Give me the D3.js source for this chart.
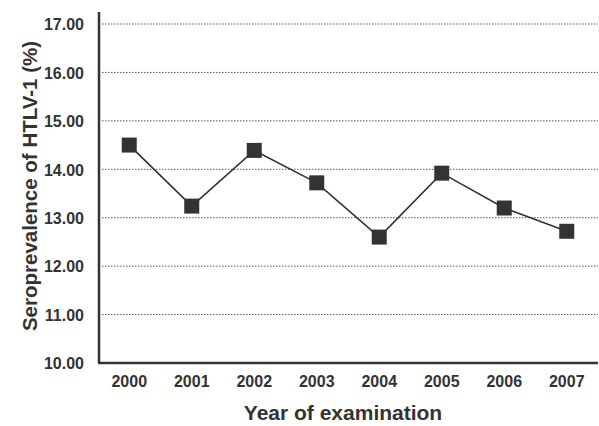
<!DOCTYPE html>
<html lang="en">
<head>
  <meta charset="UTF-8">
  <title>HTLV-1 Seroprevalence</title>
  <script src="https://d3js.org/d3.v7.min.js"></script>
  <style>
    body { margin: 0; background: #fff; }
    svg { font-family: "Liberation Sans", Arial, sans-serif; }
    .tick-label { font-weight: bold; font-size: 16px; fill: #333; }
    .axis-title { font-weight: bold; fill: #333; }
    .grid { stroke: #555; stroke-width: 1px; stroke-dasharray: 1.5 1.5; }
  </style>
</head>
<body>
  <svg width="599" height="426"></svg>

  <script>
    const years = ["2000", "2001", "2002", "2003", "2004", "2005", "2006", "2007"];
    const prevalence = [14.50, 13.24, 14.39, 13.72, 12.60, 13.92, 13.20, 12.72];
    const yTicks = [10, 11, 12, 13, 14, 15, 16, 17];

    const data = years.map((y, i) => ({ year: y, value: prevalence[i] }));

    const svg = d3.select("svg"),
      margin = { top: 24, right: 1, bottom: 64, left: 98 },
      width = +svg.attr("width") - margin.left - margin.right,
      height = +svg.attr("height") - margin.top - margin.bottom;

    const g = svg.append("g").attr("transform", `translate(${margin.left},${margin.top})`);

    const x = d3.scaleBand()
      .domain(years)
      .range([0, width]);

    const y = d3.scaleLinear()
      .domain([10, 17])
      .range([height + 1, 0]);

    // Gridlines
    g.selectAll(".grid")
      .data(yTicks.filter(d => d > 10))
      .enter()
      .append("line")
      .attr("class", "grid")
      .attr("x1", 4)
      .attr("x2", width)
      .attr("y1", d => y(d))
      .attr("y2", d => y(d));

    // Y Axis
    const yAxis = g.append("g")
      .call(d3.axisLeft(y).tickValues(yTicks).tickFormat(d3.format(".2f")).tickSize(0).tickPadding(14));
    yAxis.select(".domain").remove();
    yAxis.selectAll("text").attr("class", "tick-label").attr("fill", null).attr("dy", "0.36em");

    g.append("line")
      .attr("x1", 1).attr("x2", 1)
      .attr("y1", -12).attr("y2", y(10))
      .attr("stroke", "#333").attr("stroke-width", 2.5);

    // X Axis
    const xAxis = g.append("g")
      .attr("transform", `translate(0,${y(10)})`)
      .call(d3.axisBottom(x).tickSize(0).tickPadding(13));
    xAxis.select(".domain").remove();
    xAxis.selectAll("text").attr("class", "tick-label").attr("fill", null);

    g.append("line")
      .attr("x1", 0).attr("x2", width)
      .attr("y1", y(10)).attr("y2", y(10))
      .attr("stroke", "#333").attr("stroke-width", 2.5);

    // Line
    const line = d3.line()
      .x(d => x(d.year) + x.bandwidth() / 2)
      .y(d => y(d.value));

    g.append("path")
      .datum(data)
      .attr("fill", "none")
      .attr("stroke", "#333")
      .attr("stroke-width", 1.6)
      .attr("d", line);

    // Markers
    const size = 15;
    g.selectAll(".marker")
      .data(data)
      .enter()
      .append("rect")
      .attr("class", "marker")
      .attr("x", d => x(d.year) + x.bandwidth() / 2 - size / 2)
      .attr("y", d => y(d.value) - size / 2)
      .attr("width", size)
      .attr("height", size)
      .attr("fill", "#333");

    // Axis titles
    svg.append("text")
      .attr("class", "axis-title")
      .attr("x", 343)
      .attr("y", 420)
      .attr("text-anchor", "middle")
      .style("font-size", "21px")
      .text("Year of examination");

    svg.append("text")
      .attr("class", "axis-title")
      .attr("transform", "translate(37,186) rotate(-90)")
      .attr("text-anchor", "middle")
      .style("font-size", "20.5px")
      .text("Seroprevalence of HTLV-1 (%)");
  </script>
</body>
</html>
